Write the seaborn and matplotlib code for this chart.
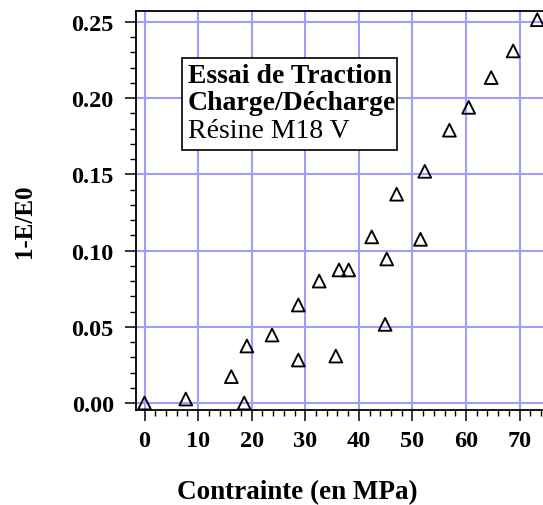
import matplotlib
matplotlib.use("Agg")
import matplotlib.pyplot as plt
from matplotlib.patches import Rectangle
from matplotlib.ticker import MultipleLocator, FormatStrFormatter
import numpy as np
import pandas as pd
import seaborn as sns

# Contrainte (MPa) et endommagement 1-E/E0, essai charge/décharge
contrainte = [0.0, 7.7, 16.2, 18.6, 19.1, 23.8, 28.7, 28.7, 32.6, 35.7, 36.3,
              38.1, 42.4, 44.9, 45.2, 47.05, 51.5, 52.3, 56.9, 60.5, 64.7,
              68.8, 73.3]
endommagement = [0.0, 0.0026, 0.0173, 0.0, 0.0374, 0.0446, 0.0282, 0.0643,
                 0.080, 0.0308, 0.0873, 0.0873, 0.109, 0.0516, 0.0945, 0.137,
                 0.1074, 0.152, 0.179, 0.194, 0.2135, 0.231, 0.2515]
x_ticks = [0, 10, 20, 30, 40, 50, 60, 70]
y_ticks = [0.00, 0.05, 0.10, 0.15, 0.20, 0.25]
titre = ["Essai de Traction", "Charge/Décharge", "Résine M18 V"]

df = pd.DataFrame({"Contrainte": contrainte, "D": endommagement})

sns.set_style("white")
plt.rcParams["font.family"] = ["Liberation Serif", "DejaVu Serif"]
plt.rcParams["text.color"] = "black"
plt.rcParams["axes.labelcolor"] = "black"
plt.rcParams["xtick.color"] = "black"
plt.rcParams["ytick.color"] = "black"

fig = plt.figure(figsize=(5.43, 5.06), dpi=100)
ax = fig.add_axes([0.2505, 0.1883, 1.0092 - 0.2505, 0.9757 - 0.1883])

sns.scatterplot(data=df, x="Contrainte", y="D", ax=ax, marker="^", s=85,
                facecolor="none", edgecolor="black", linewidth=1.35,
                zorder=3, legend=False)

ax.set_xlim(-1.59, 75.3)
ax.set_ylim(-0.0044, 0.257)
ax.set_xticks(x_ticks)
ax.set_yticks(y_ticks)
ax.xaxis.set_minor_locator(MultipleLocator(2))
ax.yaxis.set_minor_locator(MultipleLocator(0.01))
ax.yaxis.set_major_formatter(FormatStrFormatter("%.2f"))

ax.grid(True, which="major", color="#9e9eff", linewidth=1.5)
ax.set_axisbelow(True)

for side in ["left", "bottom", "top", "right"]:
    ax.spines[side].set_color("black")
    ax.spines[side].set_linewidth(1.3)

ax.tick_params(which="major", direction="out", length=8.0, width=1.1,
               color="black", labelsize=17.5, labelcolor="black",
               bottom=True, left=True)
ax.tick_params(which="minor", direction="out", length=4.2, width=1.0,
               color="black", bottom=True, left=True)
ax.tick_params(axis="y", which="major", pad=8)
ax.tick_params(axis="x", which="major", pad=6.5)
for lab in ax.get_xticklabels() + ax.get_yticklabels():
    lab.set_fontweight("bold")

ax.set_xlabel("Contrainte (en MPa)", fontsize=19.5, fontweight="bold",
              color="black")
ax.xaxis.label.set_va("baseline")
ax.xaxis.set_label_coords(0.392, -0.2224)
ax.set_ylabel("1-E/E0", fontsize=18, fontweight="bold", color="black")
ax.yaxis.label.set_va("center")
ax.yaxis.set_label_coords(-0.27, 0.476)

# encadré descriptif
ax.add_patch(Rectangle((0.1124, 0.6526), 0.5211, 0.2302,
                       transform=ax.transAxes, facecolor="white",
                       edgecolor="black", linewidth=1.2, zorder=4))
baselines = [0.8218, 0.7548, 0.6837]
weights = ["bold", "bold", "normal"]
for txt, yb, w in zip(titre, baselines, weights):
    ax.text(0.1255, yb, txt, transform=ax.transAxes, fontsize=20,
            fontweight=w, color="black", ha="left", va="baseline", zorder=5)

fig.savefig("out.png", dpi=100)
